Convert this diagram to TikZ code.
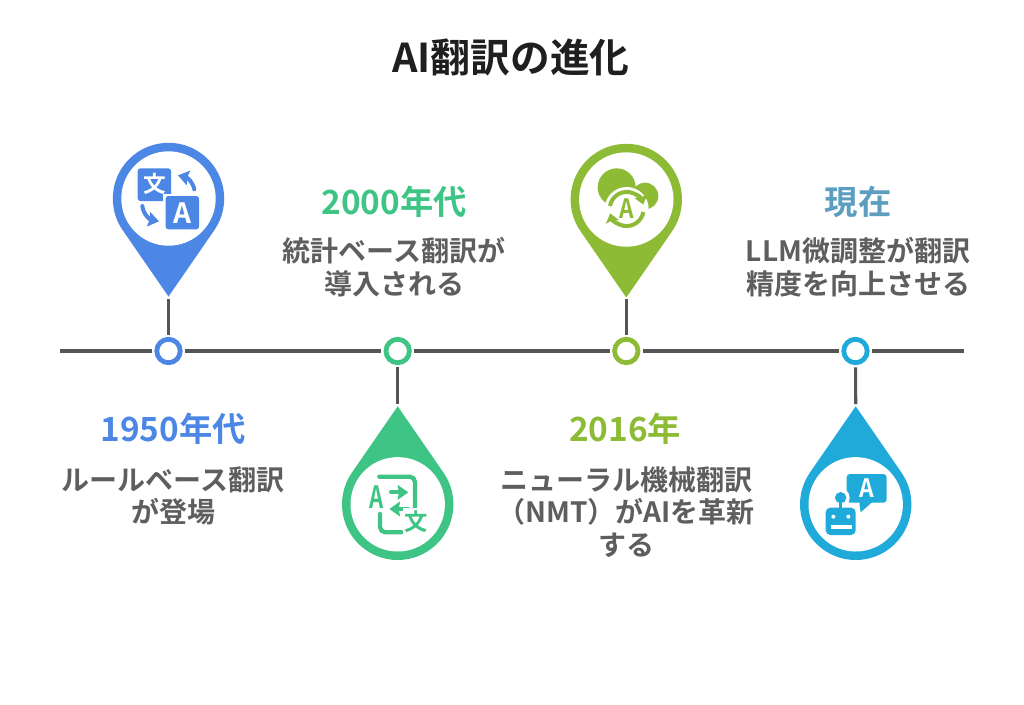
\documentclass[tikz,border=0pt]{standalone}
\usepackage{fontspec}
\usepackage{graphicx}
\setmainfont{Noto Sans CJK JP}[BoldFont={Noto Sans CJK JP Bold}]
\usetikzlibrary{arrows.meta}
\definecolor{pinblue}{HTML}{4C87E5}
\definecolor{pingreen}{HTML}{3EC484}
\definecolor{pinolive}{HTML}{8DBB35}
\definecolor{pincyan}{HTML}{1FAAD9}
\definecolor{headcyan}{HTML}{5B9EC0}
\definecolor{bodygray}{HTML}{5E5E5E}
\definecolor{linegray}{HTML}{555555}
\tikzset{
  milestone/.style={circle,draw=#1,line width=3.6pt,fill=white,minimum size=17.6pt,inner sep=0pt,outer sep=3.4pt},
  axisline/.style={linegray,line width=2.35pt},
  heading/.style={font=\fontsize{25}{30}\selectfont\bfseries,text=#1},
  bodytext/.style={font=\fontsize{21}{24.4}\selectfont\bfseries,text=bodygray,align=center},
  iconarrow/.style={line width=3pt,line cap=round,-{Stealth[length=8pt,width=11pt,inset=1pt]}},
}
% #1 x, #2 y, #3 colour, #4 direction of the tip
\newcommand{\markerpin}[4]{
  \begin{scope}[shift={(#1,#2)}]
    \fill[#3] (#4+55.6:55.7) arc[start angle=#4+55.6,end angle=#4+304.4,radius=55.7] -- (#4:98) -- cycle;
    \fill[white] (0,0) circle (47.2);
  \end{scope}
}
\begin{document}
\begin{tikzpicture}[x=0.75pt,y=0.75pt]
\useasboundingbox (0,0) rectangle (1024,-704);
\fill[white] (0,0) rectangle (1024,-704);

\node (title) at (511,-57) {\fontsize{29.8}{34}\selectfont\bfseries\textcolor[HTML]{1F1F1F}{AI翻訳の進化}};

% timeline
\coordinate (left) at (60,-351);
\coordinate (right) at (964,-351);
\node[milestone=pinblue] (m1) at (168.5,-351) {};
\node[milestone=pingreen] (m2) at (397.7,-351) {};
\node[milestone=pinolive] (m3) at (626.3,-351) {};
\node[milestone=pincyan] (m4) at (855.5,-351) {};
\draw[axisline] (left) -- (m1);
\draw[axisline] (m1) -- (m2);
\draw[axisline] (m2) -- (m3);
\draw[axisline] (m3) -- (m4);
\draw[axisline] (m4) -- (right);

% pins
\markerpin{168.5}{-198.5}{pinblue}{-90}
\markerpin{397.7}{-504.3}{pingreen}{90}
\markerpin{626.3}{-199.5}{pinolive}{-90}
\markerpin{855.7}{-504.3}{pincyan}{90}
\coordinate (tip1) at (168.5,-299);
\coordinate (tip2) at (397.7,-404);
\coordinate (tip3) at (626.3,-299);
\coordinate (tip4) at (855.7,-404);
\draw[axisline] (tip1) -- (m1);
\draw[axisline] (tip2) -- (m2);
\draw[axisline] (tip3) -- (m3);
\draw[axisline] (tip4) -- (m4);

% first icon
\begin{scope}[shift={(100,-130)},x=0.25pt,y=-0.25pt]
\fill[pinblue,rounded corners=2pt] (113,115) rectangle (213,213);
\node[text=white,font=\fontsize{17}{17}\selectfont\bfseries] (wen1) at (163,162) {文};
\fill[white] (190,191) rectangle (305,306);
\fill[pinblue,rounded corners=2pt] (197,198) rectangle (297,298);
\node[text=white,font=\fontsize{21}{21}\selectfont\bfseries] (a1) at (247,249) {A};
\draw[iconarrow,pinblue] (283,178) .. controls (278,155) and (262,143) .. (234,136);
\draw[iconarrow,pinblue] (127,228) .. controls (130,252) and (148,268) .. (177,274);
\end{scope}

% second icon
\begin{scope}[shift={(330,-335)},x=0.25pt,y=-0.25pt]
\draw[pingreen,line width=3.2pt,line cap=round,rounded corners=4pt] (148,425) -- (255,425) -- (255,520);
\draw[pingreen,line width=3.2pt,line cap=round,rounded corners=4pt] (150,537) -- (150,592) -- (215,592);
\node[text=pingreen,font=\fontsize{23}{23}\selectfont\bfseries] (a2) at (140,485) {\scalebox{0.72}[1]{A}};
\draw[iconarrow,pingreen] (183,472) -- (235,472);
\draw[iconarrow,pingreen] (235,522) -- (178,522);
\fill[white] (218,518) rectangle (300,600);
\node[text=pingreen,font=\fontsize{17.5}{17.5}\selectfont\bfseries] (wen2) at (257,559) {文};
\end{scope}

% third icon
\begin{scope}[shift={(560,-130)},x=0.25pt,y=-0.25pt]
\fill[pinolive] (170,172) circle (57);
\fill[pinolive] (255,198) circle (40);
\fill[pinolive] (170,185) rectangle (260,225);
\fill[pinolive] (125,185) rectangle (150,205);
\fill[white] (200,237) circle (66);
\draw[pinolive,line width=3pt,-{Stealth[length=6.5pt,width=10pt,inset=1pt]}] (150,228) arc[start angle=190,end angle=345,radius=51];
\draw[pinolive,line width=3pt,-{Stealth[length=6.5pt,width=10pt,inset=1pt]}] (250,246) arc[start angle=10,end angle=165,radius=51];
\node[text=pinolive,font=\fontsize{20}{20}\selectfont\bfseries] (a3) at (200,237) {\scalebox{0.85}[1]{A}};
\end{scope}

% fourth icon
\begin{scope}[shift={(790,-335)},x=0.25pt,y=-0.25pt]
\fill[pincyan,rounded corners=2.5pt] (170,417) rectangle (290,503);
\fill[pincyan] (208,495) -- (212,532) -- (248,500) -- cycle;
\node[text=white,font=\fontsize{19}{19}\selectfont\bfseries] (a4) at (231,460) {\scalebox{0.9}[1]{A}};
\fill[white] (152,488) circle (27);
\fill[white] (178,505) rectangle (210,540);
\fill[pincyan] (212,532) -- (208,505) -- (212,505) -- cycle;
\fill[pincyan] (152,488) circle (17);
\fill[pincyan] (147,495) rectangle (157,525);
\fill[pincyan,rounded corners=3.5pt] (107,518) rectangle (197,600);
\fill[white] (130,545) circle (6);
\fill[white] (175,545) circle (6);
\fill[white] (122,570) rectangle (185,583);
\end{scope}

% labels
\node[heading=pinblue] (h1) at (173,-429) {1950年代};
\node[bodytext] (b1) at (173,-496) {ルールベース翻訳\\が登場};
\node[heading=pingreen] (h2) at (394,-202) {2000年代};
\node[bodytext] (b2) at (394,-267) {統計ベース翻訳が\\導入される};
\node[heading=pinolive] (h3) at (625,-429) {2016年};
\node[bodytext] (b3) at (626,-512) {ニューラル機械翻訳\\（NMT）がAIを革新\\する};
\node[heading=headcyan] (h4) at (858,-202) {現在};
\node[bodytext] (b4) at (858,-267) {LLM微調整が翻訳\\精度を向上させる};
\end{tikzpicture}
\end{document}
